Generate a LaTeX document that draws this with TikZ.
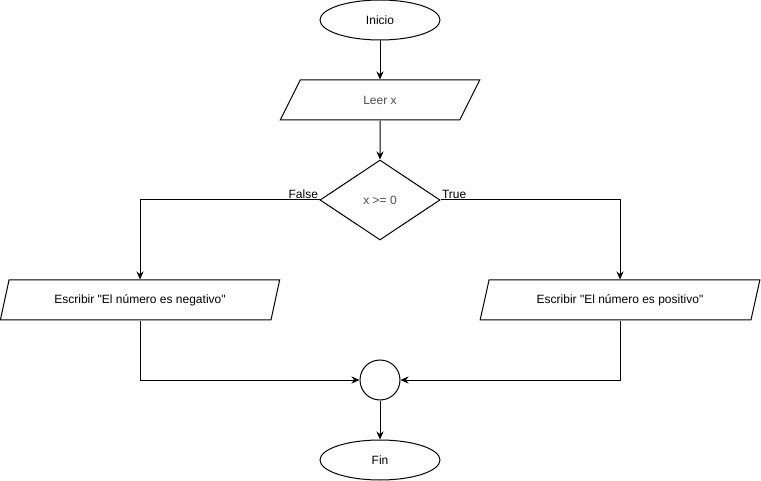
\documentclass[tikz,border=0pt]{standalone}
\usepackage{fontspec}
\setmainfont{Liberation Sans}[Ligatures=TeXOff]
\usetikzlibrary{shapes.geometric,arrows.meta}
\tikzset{
  base/.style={draw,line width=1pt,inner sep=0pt,font=\fontsize{12}{14}\selectfont},
  terminal/.style={base,ellipse,minimum width=120pt,minimum height=40pt},
  io/.style={base,trapezium,trapezium left angle=63.43,trapezium right angle=116.57,trapezium stretches=true,minimum height=40pt},
  decision/.style={base,diamond,minimum width=120pt,minimum height=80pt},
  joint/.style={base,circle,minimum size=40pt},
  flow/.style={line width=1pt,-{Stealth[length=8pt,width=7pt]}},
  branch/.style={font=\fontsize{12}{14}\selectfont,inner sep=1pt}
}
\begin{document}
\begin{tikzpicture}[x=1pt,y=-1pt]
  \useasboundingbox (0,0) rectangle (761,481);
  \node[terminal] (inicio) at (380,20) {Inicio};
  \node[io,minimum width=200pt,text=black!70] (leer) at (380,100) {Leer x};
  \node[decision,text=black!70] (cond) at (380,200) {x >= 0};
  \node[io,minimum width=280pt] (neg) at (140,300) {Escribir "El número es negativo"};
  \node[io,minimum width=280pt] (pos) at (620,300) {Escribir "El número es positivo"};
  \node[joint] (union) at (380,380) {};
  \node[terminal] (fin) at (380,460) {Fin};
  \draw[flow] (inicio) -- (leer);
  \draw[flow] (leer) -- (cond);
  \draw[flow] (cond.west) node[branch,above left] {False} -| (neg.north);
  \draw[flow] (cond.east) node[branch,above right] {True} -| (pos.north);
  \draw[flow] (neg.south) |- (union);
  \draw[flow] (pos.south) |- (union);
  \draw[flow] (union) -- (fin);
\end{tikzpicture}
\end{document}
